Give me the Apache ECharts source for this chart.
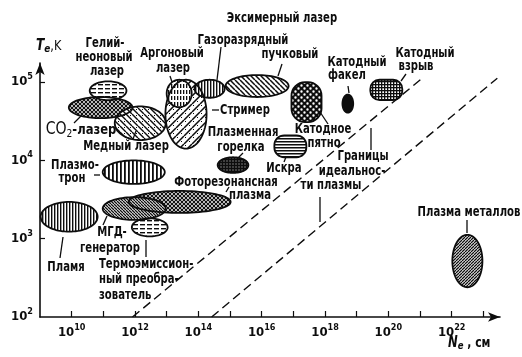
<!DOCTYPE html>
<html><head><meta charset="utf-8">
<script src="https://cdn.jsdelivr.net/npm/echarts@6/dist/echarts.min.js"></script>
<style>html,body{margin:0;padding:0;background:#fff}#c{width:522px;height:357px}</style>
</head><body><div id="c"></div>
<script>
// ---- data (all values are log10) ----
const xLabelExponents = [10, 12, 14, 16, 18, 20, 22];
const xTickExponents = [10, 11, 12, 13, 14, 15, 16, 17, 18, 19, 20, 21, 22, 23];
const yLabelExponents = [2, 3, 4, 5];
const yTickExponents = [3, 4, 5];

const regionNames = ['Пламя', 'Плазмотрон', 'Фоторезонансная плазма', 'МГД-генератор',
  'Термоэмиссионный преобразователь', 'CO2-лазер', 'Гелий-неоновый лазер', 'Медный лазер',
  'Стример', 'Аргоновый лазер', 'Газоразрядный', 'Пучковый', 'Плазменная горелка', 'Искра',
  'Катодное пятно', 'Катодный факел', 'Катодный взрыв', 'Плазма металлов'];
const logNeMin = [9.02, 10.98, 11.80, 10.98, 11.90, 9.91, 10.57, 11.36, 12.96, 13.00, 13.88, 14.86, 14.61, 16.40, 16.94, 18.55, 19.43, 22.02];
const logNeMax = [10.82, 12.94, 15.02, 12.97, 13.03, 11.92, 11.73, 12.97, 14.26, 13.79, 14.83, 16.85, 15.58, 17.41, 17.89, 18.89, 20.44, 22.97];
const logTeMin = [3.09, 3.70, 3.33, 3.24, 3.03, 4.54, 4.77, 4.26, 4.15, 4.68, 4.80, 4.81, 3.84, 4.04, 4.49, 4.61, 4.77, 2.38];
const logTeMax = [3.47, 4.00, 3.61, 3.53, 3.26, 4.81, 5.01, 4.69, 5.03, 5.03, 5.03, 5.09, 4.04, 4.32, 5.00, 4.84, 5.03, 3.05];

const boundary1Ne = [11.92, 21.04];
const boundary1Te = [2.00, 5.04];
const boundary2Ne = [14.42, 23.44];
const boundary2Te = [2.00, 5.05];

// ---- styles ----
const INK = '#0d0d0d';
const TF = "'Liberation Sans Narrow','DejaVu Sans Condensed','Liberation Sans',sans-serif";
const SX = 0.80;
function pat(w, h, draw, bg) {
  const c = document.createElement('canvas'); c.width = w; c.height = h;
  const g = c.getContext('2d'); g.fillStyle = bg || '#fff'; g.fillRect(0, 0, w, h);
  g.strokeStyle = INK; g.fillStyle = INK; draw(g, w, h);
  return { image: c, repeat: 'repeat' };
}
function diag(g, s, dir, lw) {
  g.lineWidth = lw; g.beginPath();
  for (const o of [-s, 0, s]) {
    if (dir > 0) { g.moveTo(o, s); g.lineTo(o + s, 0); }
    else { g.moveTo(o, 0); g.lineTo(o + s, s); }
  }
  g.stroke();
}
const P = {
  vlines: pat(4, 4, g => g.fillRect(0, 0, 1.8, 4)),
  vlines3: pat(3, 3, g => g.fillRect(0, 0, 1.4, 3)),
  hlines: pat(3, 3, g => g.fillRect(0, 0, 3, 1.5)),
  hdash: pat(7, 4, g => g.fillRect(0, 0, 5, 1.4)),
  vdash: pat(3, 6, g => g.fillRect(0, 0, 1.3, 4)),
  backDense: pat(3, 3, g => diag(g, 3, -1, 1.3)),
  backDots: pat(6, 6, g => { diag(g, 6, -1, 1.4); g.fillRect(4, 1, 1, 1); }),
  back5: pat(5, 5, g => diag(g, 5, -1, 1.5)),
  fwdDense: pat(3, 3, g => diag(g, 3, 1, 1.3)),
  fwdDots: pat(8, 8, g => { diag(g, 8, 1, 1.5); g.fillRect(1, 1, 1, 1); g.fillRect(5, 5, 1, 1); }),
  cross: pat(4, 4, g => { diag(g, 4, 1, 1.2); diag(g, 4, -1, 1.2); }),
  grid: pat(3, 3, g => { g.fillRect(0, 0, 3, 1.3); g.fillRect(0, 0, 1.3, 3); }),
  darkGrid: pat(3, 3, g => { g.fillStyle = '#ddd'; g.fillRect(1.5, 1.5, 1, 1); }, INK),
  honey: pat(6, 6, g => { g.fillStyle = '#fff'; g.beginPath(); g.arc(1.5, 1.5, 1.2, 0, 7); g.arc(4.5, 4.5, 1.2, 0, 7); g.fill(); }, INK),
  solid: INK
};
const regionStyle = {
  'Пламя': { fill: P.vlines3 },
  'Плазмотрон': { fill: P.vlines },
  'Фоторезонансная плазма': { fill: P.cross },
  'МГД-генератор': { fill: P.backDense },
  'Термоэмиссионный преобразователь': { fill: P.hdash },
  'CO2-лазер': { fill: P.cross },
  'Гелий-неоновый лазер': { fill: P.hdash },
  'Медный лазер': { fill: P.backDots },
  'Стример': { fill: P.fwdDots },
  'Аргоновый лазер': { fill: P.vdash },
  'Газоразрядный': { fill: P.vlines3 },
  'Пучковый': { fill: P.back5 },
  'Плазменная горелка': { fill: P.darkGrid },
  'Искра': { fill: P.hlines, shape: 'rect' },
  'Катодное пятно': { fill: P.honey, shape: 'rect' },
  'Катодный факел': { fill: P.solid },
  'Катодный взрыв': { fill: P.grid, shape: 'rect' },
  'Плазма металлов': { fill: P.fwdDense }
};

const regionData = regionNames.map((n, i) => [logNeMin[i], logNeMax[i], logTeMin[i], logTeMax[i], i]);

function makeRender(outline) {
  return function (params, api) {
    const i = api.value(4);
    const p1 = api.coord([api.value(0), api.value(3)]);
    const p2 = api.coord([api.value(1), api.value(2)]);
    const x = p1[0], y = p1[1], w = p2[0] - p1[0], h = p2[1] - p1[1];
    const st = regionStyle[regionNames[i]];
    const style = outline ? { fill: null, stroke: INK, lineWidth: 1.8 } : { fill: st.fill, stroke: null };
    if (st.shape === 'rect') return { type: 'rect', shape: { x, y, width: w, height: h, r: Math.min(w, h) * 0.45 }, style };
    const pts = [], cx = x + w / 2, cy = y + h / 2;
    for (let k = 0; k < 80; k++) { const a = k / 80 * 2 * Math.PI; pts.push([cx + w / 2 * Math.cos(a), cy + h / 2 * Math.sin(a)]); }
    return { type: 'polygon', shape: { points: pts }, style };
  };
}

// ---- annotations (pixel layout) ----
const labels = [
  ['Эксимерный лазер', 282, 18, 'center'],
  ['Газоразрядный', 243, 40, 'center'],
  ['пучковый', 290, 54, 'center'],
  ['Гелий-', 105, 43, 'center'],
  ['неоновый', 104, 57, 'center'],
  ['лазер', 107, 71, 'center'],
  ['Аргоновый', 172, 53, 'center'],
  ['лазер', 173, 68, 'center'],
  ['Стример', 245, 110, 'center'],
  ['Медный лазер', 126, 146, 'center'],
  ['Плазменная', 243, 132, 'center'],
  ['горелка', 241, 147, 'center'],
  ['Искра', 284, 168, 'center'],
  ['Катодное', 323, 129, 'center'],
  ['пятно', 324, 143, 'center'],
  ['Катодный', 357, 62, 'center'],
  ['факел', 347, 75, 'center'],
  ['Катодный', 425, 53, 'center'],
  ['взрыв', 416, 66, 'center'],
  ['Границы', 363, 156, 'center'],
  ['идеальнос-', 352, 171, 'center'],
  ['ти плазмы', 331, 185, 'center'],
  ['Фоторезонансная', 226, 182, 'center'],
  ['плазма', 250, 195, 'center'],
  ['Плазмо-', 75, 165, 'center'],
  ['трон', 72, 178, 'center'],
  ['Пламя', 66, 267, 'center'],
  ['МГД-', 112, 232, 'center'],
  ['генератор', 110, 248, 'center'],
  ['Термоэмиссион-', 99, 264, 'left'],
  ['ный преобра-', 99, 279, 'left'],
  ['зователь', 99, 295, 'left'],
  ['Плазма металлов', 469, 212, 'center']
];
const leaders = [
  [221, 47, 217, 80], [282, 64, 278, 76], [170, 76, 172, 82], [212, 110, 219, 110],
  [81, 116, 74, 123], [136, 131, 133, 139], [243, 153, 238, 158], [286, 157, 284, 162],
  [320, 112, 328, 124], [348, 86, 349, 93], [406, 74, 401, 81], [371, 128, 371, 150],
  [320, 197, 320, 222], [229, 187, 226, 192], [94, 175, 100, 175], [63, 237, 60, 258],
  [107, 216, 103, 225], [146, 240, 146, 257], [467, 220, 467, 233]
];

const graphics = [];
labels.forEach(l => graphics.push({ type: 'text', x: l[1], y: l[2], z: 10, scaleX: SX,
  style: { text: l[0], fontSize: 14, fontWeight: 'bold', fontFamily: TF, fill: INK, align: l[3], verticalAlign: 'middle' } }));
leaders.forEach(s => graphics.push({ type: 'line', z: 10, shape: { x1: s[0], y1: s[1], x2: s[2], y2: s[3] }, style: { stroke: INK, lineWidth: 1.3 } }));
graphics.push({ type: 'text', x: 81, y: 130, z: 10, scaleX: 0.92, style: { text: '{a|CO}{b|2}{c|-лазер}', align: 'center', verticalAlign: 'middle', fill: INK,
  rich: { a: { fontSize: 17, fontFamily: TF, lineHeight: 20 }, b: { fontSize: 11, fontFamily: TF, lineHeight: 8, verticalAlign: 'bottom' }, c: { fontSize: 14, fontFamily: TF, fontWeight: 'bold', lineHeight: 20 } } } });
graphics.push({ type: 'text', x: 36, y: 46, z: 10, scaleX: 0.9, style: { text: '{a|T}{b|e}{c|,K}', align: 'left', verticalAlign: 'middle', fill: INK,
  rich: { a: { fontSize: 15, fontFamily: TF, fontWeight: 'bold', fontStyle: 'italic', lineHeight: 18 }, b: { fontSize: 11, fontFamily: TF, fontStyle: 'italic', fontWeight: 'bold', lineHeight: 8, verticalAlign: 'bottom' }, c: { fontSize: 14, fontFamily: TF, lineHeight: 18 } } } });
graphics.push({ type: 'text', x: 448, y: 343, z: 10, scaleX: 0.86, style: { text: '{a|N}{b|e}{c| , см}', align: 'left', verticalAlign: 'middle', fill: INK,
  rich: { a: { fontSize: 15, fontFamily: TF, fontWeight: 'bold', fontStyle: 'italic', lineHeight: 18 }, b: { fontSize: 11, fontFamily: TF, fontStyle: 'italic', fontWeight: 'bold', lineHeight: 8, verticalAlign: 'bottom' }, c: { fontSize: 14, fontFamily: TF, fontWeight: 'bold', lineHeight: 18 } } } });

const powRich = { b: { fontSize: 13, fontFamily: TF, fontWeight: 'bold', lineHeight: 20, color: INK }, s: { fontSize: 9, fontFamily: TF, fontWeight: 'bold', lineHeight: 6, verticalAlign: 'top', color: INK } };
const powFmt = v => '{b|10}{s|' + Math.round(v) + '}';

const chart = echarts.init(document.getElementById('c'), null, { renderer: 'canvas' });
chart.setOption({
  backgroundColor: '#fff',
  animation: false,
  grid: { left: 40, right: 22, top: 63, bottom: 40 },
  xAxis: {
    type: 'value', min: 9, max: 23.525,
    axisLine: { show: true, lineStyle: { color: INK, width: 1.6 }, symbol: ['none', 'arrow'], symbolSize: [7, 12] },
    axisTick: { show: true, inside: true, length: 6, lineStyle: { color: INK, width: 1.2 }, customValues: xTickExponents },
    axisLabel: { customValues: xLabelExponents, formatter: powFmt, rich: powRich, margin: 6 },
    splitLine: { show: false }
  },
  yAxis: {
    type: 'value', min: 2, max: 5.244,
    axisLine: { show: true, lineStyle: { color: INK, width: 1.6 }, symbol: ['none', 'arrow'], symbolSize: [7, 12] },
    axisTick: { show: true, inside: true, length: 5, lineStyle: { color: INK, width: 1.2 }, customValues: yTickExponents },
    axisLabel: { customValues: yLabelExponents, formatter: powFmt, rich: powRich, margin: 7 },
    splitLine: { show: false }
  },
  series: [
    { type: 'custom', renderItem: makeRender(false), data: regionData, encode: { x: [0, 1], y: [2, 3] }, z: 2, silent: true },
    { type: 'custom', renderItem: makeRender(true), data: regionData, encode: { x: [0, 1], y: [2, 3] }, z: 3, silent: true },
    { type: 'line', data: boundary1Ne.map((x, i) => [x, boundary1Te[i]]), symbol: 'none', z: 4,
      lineStyle: { color: INK, width: 1.4, type: [9, 5] } },
    { type: 'line', data: boundary2Ne.map((x, i) => [x, boundary2Te[i]]), symbol: 'none', z: 4,
      lineStyle: { color: INK, width: 1.4, type: [9, 5] } }
  ],
  graphic: graphics
});
</script></body></html>
